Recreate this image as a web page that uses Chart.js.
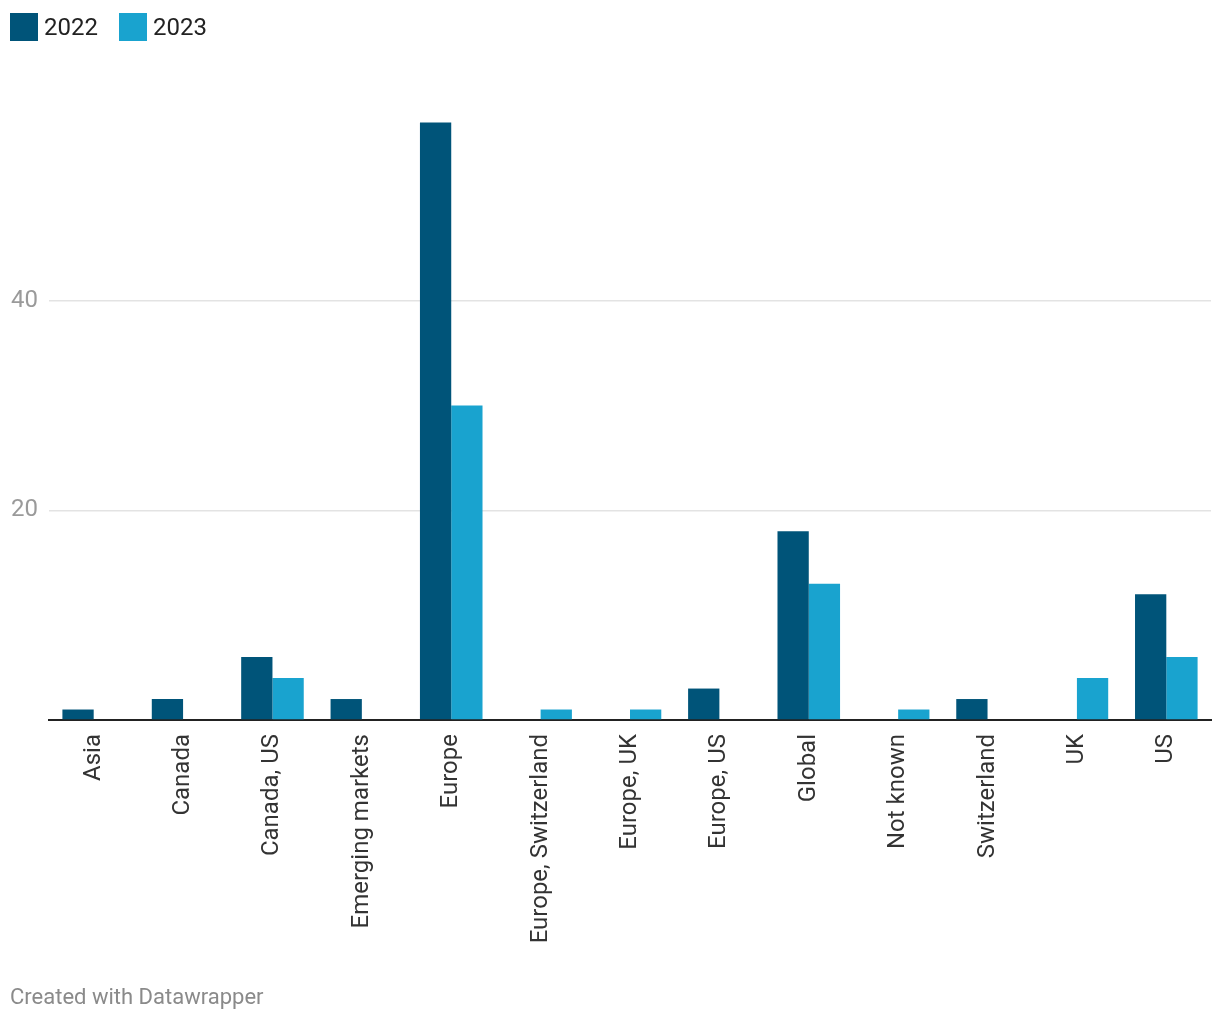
<!DOCTYPE html>
<html>
<head>
<meta charset="utf-8">
<script src="https://cdn.jsdelivr.net/npm/chart.js@4"></script>
<style>
  body { margin: 0; background: #fff; font-family: Roboto, sans-serif; }
  #wrap { position: relative; width: 1220px; height: 1020px; }
  #chart { position: absolute; left: 0; top: 0; }
  .legend { position: absolute; top: 13px; left: 10px; display: flex; align-items: center; font-size: 24px; color: #222; line-height: 28px; }
  .legend span.box { display: inline-block; width: 28px; height: 28px; margin-right: 6px; }
  .legend .item { display: flex; align-items: center; margin-right: 21px; }
  .footer { position: absolute; left: 10px; top: 984px; font-size: 22px; color: #8a8a8a; }
</style>
</head>
<body>
<div id="wrap">
  <canvas id="chart" width="1220" height="1020"></canvas>
  <div class="legend" id="legend"></div>
  <div class="footer">Created with Datawrapper</div>
</div>
<script>
  var categories = ['Asia', 'Canada', 'Canada, US', 'Emerging markets', 'Europe', 'Europe, Switzerland',
    'Europe, UK', 'Europe, US', 'Global', 'Not known', 'Switzerland', 'UK', 'US'];
  var values2022 = [1, 2, 6, 2, 57, 0, 0, 3, 18, 0, 2, 0, 12];
  var values2023 = [0, 0, 4, 0, 30, 1, 1, 0, 13, 1, 0, 4, 6];
  var yTicks = [0, 20, 40, 60];

  var colors = { '2022': '#005479', '2023': '#19a3cf' };

  var legend = document.getElementById('legend');
  Object.keys(colors).forEach(function(k) {
    var item = document.createElement('div');
    item.className = 'item';
    item.innerHTML = '<span class="box" style="background:' + colors[k] + '"></span>' + k;
    legend.appendChild(item);
  });

  var ctx = document.getElementById('chart').getContext('2d');
  new Chart(ctx, {
    type: 'bar',
    data: {
      labels: categories,
      datasets: [
        { label: '2022', data: values2022, backgroundColor: colors['2022'] },
        { label: '2023', data: values2023, backgroundColor: colors['2023'] }
      ]
    },
    options: {
      responsive: false,
      animation: false,
      layout: { padding: { top: 91, right: 9, left: 0, bottom: 0 } },
      plugins: { legend: { display: false }, tooltip: { enabled: false } },
      datasets: { bar: { categoryPercentage: 0.7, barPercentage: 1 } },
      scales: {
        x: {
          grid: { display: false, drawTicks: false },
          border: { color: '#222', width: 2 },
          ticks: {
            minRotation: 90, maxRotation: 90, padding: 14, autoSkip: false,
            color: '#333', font: { family: 'Roboto', size: 24 }
          },
          afterFit: function(s) { s.height = 300; }
        },
        y: {
          min: 0, max: 60,
          afterBuildTicks: function(s) { s.ticks = yTicks.map(function(v) { return { value: v }; }); },
          grid: {
            drawTicks: false,
            color: function(c) { return (c.tick.value === 20 || c.tick.value === 40) ? '#e3e3e3' : 'rgba(0,0,0,0)'; },
            lineWidth: 1.5
          },
          border: { display: false },
          ticks: {
            padding: 11, color: '#9a9a9a', font: { family: 'Roboto', size: 24 },
            callback: function(v) { return (v === 20 || v === 40) ? v : ''; }
          },
          afterFit: function(s) { s.width = 49; }
        }
      }
    }
  });
</script>
</body>
</html>
